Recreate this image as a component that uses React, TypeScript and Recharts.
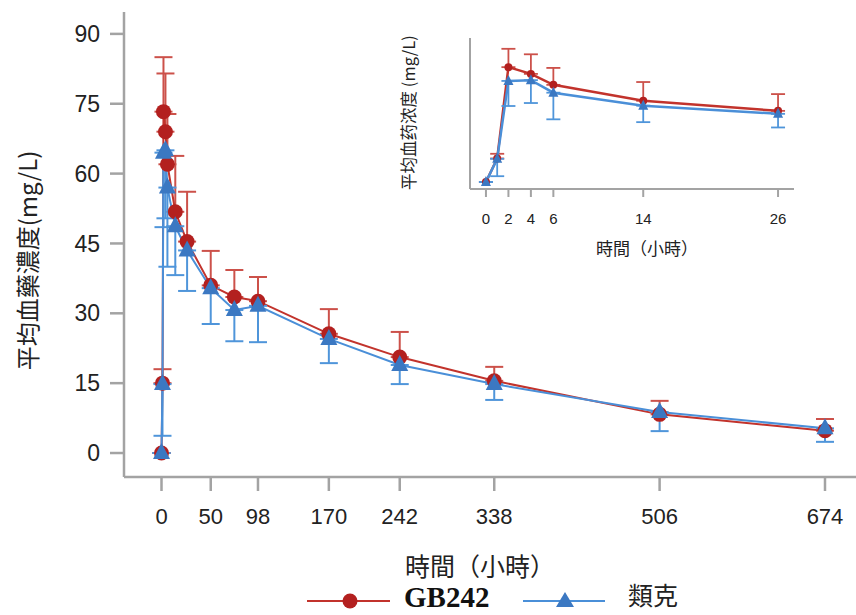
import React from 'react';
import { ComposedChart, Line, XAxis, YAxis, ErrorBar, Label } from 'recharts';

// ---- data ----
const hours = [0, 1, 2, 4, 6, 14, 26, 50, 74, 98, 170, 242, 338, 506, 674];
const gb242Mean = [0, 15, 73.3, 69, 62, 51.8, 45.4, 36, 33.5, 32.6, 25.6, 20.6, 15.5, 8.3, 4.8];
const gb242UpperErr = [0, 3, 11.7, 12.5, 10.8, 12, 10.7, 7.4, 5.8, 5.2, 5.3, 5.4, 3, 2.9, 2.5];
const remicadeMean = [0, 14.8, 64.5, 65, 57, 48.7, 43.5, 35.4, 30.7, 31.6, 24.5, 18.9, 14.8, 8.8, 5.3];
const remicadeLowerErr = [0, 11.1, 16, 14.6, 17, 10.5, 8.7, 7.7, 6.7, 7.8, 5.2, 4.1, 3.4, 4.1, 2.9];

const seriesNames = ['GB242', '類克'];
const mainXTicks = [0, 50, 98, 170, 242, 338, 506, 674];
const mainYTicks = [0, 15, 30, 45, 60, 75, 90];
const insetXTicks = [0, 2, 4, 6, 14, 26];
const insetYTicks = [0, 30, 60, 90];
const insetMaxHour = 26;

const xTitle = '時間（小時）';
const yTitleMain = '平均血藥濃度(mg/L)';
const yTitleInset = '平均血药浓度 (mg/L)';

const data = hours.map((h, i) => ({
  h,
  a: gb242Mean[i],
  aErr: [0, gb242UpperErr[i]],
  b: remicadeMean[i],
  bErr: [remicadeLowerErr[i], 0],
}));
const insetData = data.filter((d) => d.h <= insetMaxHour);

// ---- styles ----
const RED_MARK = '#b3201f';
const RED_LINE = '#c2332c';
const RED_ERR = '#cc514a';
const BLUE_MARK = '#3b78c2';
const BLUE_LINE = '#4a8fd8';
const BLUE_ERR = '#4f95da';
const AXIS = '#a3a3a3';
const SANS = '"Liberation Sans", Arial, sans-serif';
const CJK_TC = '"Noto Sans CJK TC", "Noto Sans", sans-serif';
const CJK_SC = '"Noto Sans CJK SC", "Noto Sans", sans-serif';

const circleDot = (r: number, fill: string) => (props: any) => {
  const { cx, cy, index } = props;
  if (cx == null || cy == null) return <g key={`c${index}`} />;
  return <circle key={`c${index}`} cx={cx} cy={cy} r={r} fill={fill} stroke="none" />;
};

const triDot = (half: number, up: number, down: number, fill: string) => (props: any) => {
  const { cx, cy, index } = props;
  if (cx == null || cy == null) return <g key={`t${index}`} />;
  return (
    <polygon
      key={`t${index}`}
      points={`${cx},${cy - up} ${cx + half},${cy + down} ${cx - half},${cy + down}`}
      fill={fill}
      stroke="none"
    />
  );
};

const MainXLabel = (props: any) => {
  const vb = props.viewBox || { x: 124, y: 477, width: 732, height: 138 };
  return (
    <text
      x={vb.x + vb.width / 2 - 10}
      y={vb.y + 88}
      textAnchor="middle"
      dominantBaseline="central"
      fontSize={25}
      fontFamily={CJK_TC}
      fill="#222"
    >
      {xTitle}
    </text>
  );
};

const MainYLabel = (props: any) => {
  const vb = props.viewBox || { x: 0, y: 12, width: 124, height: 465 };
  const cx = vb.x + 26;
  const cy = vb.y + vb.height / 2 + 16;
  return (
    <text
      x={cx}
      y={cy}
      transform={`rotate(-90 ${cx} ${cy})`}
      textAnchor="middle"
      dominantBaseline="central"
      fontSize={24}
      fontFamily={CJK_TC}
      fill="#222"
    >
      {yTitleMain}
    </text>
  );
};

const InsetXLabel = (props: any) => {
  const vb = props.viewBox || { x: 90, y: 164, width: 324, height: 71 };
  return (
    <text
      x={vb.x + vb.width / 2 + 15}
      y={vb.y + 58}
      textAnchor="middle"
      dominantBaseline="central"
      fontSize={17}
      fontFamily={CJK_TC}
      fill="#222"
    >
      {xTitle}
    </text>
  );
};

const InsetYLabel = (props: any) => {
  const vb = props.viewBox || { x: 0, y: 13, width: 90, height: 151 };
  const cx = vb.x + 28;
  const cy = vb.y + vb.height / 2 - 1;
  return (
    <text
      x={cx}
      y={cy}
      transform={`rotate(-90 ${cx} ${cy})`}
      textAnchor="middle"
      dominantBaseline="central"
      fontSize={16.5}
      fontFamily={CJK_SC}
      fill="#222"
    >
      {yTitleInset}
    </text>
  );
};

// legend drawn in an SVG that starts at page y = 560
const Legend = () => (
  <svg width={856} height={55} style={{ position: 'absolute', left: 0, top: 560 }}>
    <line x1={307} y1={41} x2={390} y2={41} stroke={RED_LINE} strokeWidth={2} />
    <circle cx={350} cy={41} r={7.5} fill={RED_MARK} />
    <text x={404} y={47} fontFamily='"Liberation Serif", "Times New Roman", serif' fontWeight="bold" fontSize={29} fill="#111">
      {seriesNames[0]}
    </text>
    <line x1={523} y1={41} x2={605} y2={41} stroke={BLUE_LINE} strokeWidth={2} />
    <polygon points={`565,32 574,47 556,47`} fill={BLUE_MARK} />
    <text x={628} y={45} fontFamily={CJK_TC} fontSize={25} fill="#222">
      {seriesNames[1]}
    </text>
  </svg>
);

export default function App() {
  return (
    <div style={{ position: 'absolute', left: 0, top: 0, width: 856, height: 615, background: '#fff', overflow: 'hidden' }}>
      <ComposedChart width={856} height={615} data={data} margin={{ top: 12, right: 0, bottom: 0, left: 0 }}>
        <XAxis
          dataKey="h"
          type="number"
          domain={[-38.1, 705.5]}
          allowDataOverflow
          ticks={mainXTicks}
          interval={0}
          height={138}
          tickSize={14}
          tickMargin={17}
          stroke={AXIS}
          strokeWidth={2.5}
          tick={{ fill: '#222', fontSize: 22, fontFamily: SANS }}
        >
          <Label content={MainXLabel} />
        </XAxis>
        <YAxis
          type="number"
          domain={[-5.15, 94.7]}
          allowDataOverflow
          ticks={mainYTicks}
          interval={0}
          width={124}
          tickSize={14}
          tickMargin={10}
          stroke={AXIS}
          strokeWidth={2.5}
          tick={{ fill: '#222', fontSize: 23, fontFamily: SANS }}
        >
          <Label content={MainYLabel} />
        </YAxis>
        <Line
          dataKey="a"
          name={seriesNames[0]}
          type="linear"
          stroke={RED_LINE}
          strokeWidth={2}
          dot={circleDot(7.5, RED_MARK)}
          activeDot={false}
          isAnimationActive={false}
        >
          <ErrorBar dataKey="aErr" direction="y" width={9} stroke={RED_ERR} strokeWidth={2} isAnimationActive={false} />
        </Line>
        <Line
          dataKey="b"
          name={seriesNames[1]}
          type="linear"
          stroke={BLUE_LINE}
          strokeWidth={2}
          dot={triDot(8.5, 10, 6, BLUE_MARK)}
          activeDot={false}
          isAnimationActive={false}
        >
          <ErrorBar dataKey="bErr" direction="y" width={9} stroke={BLUE_ERR} strokeWidth={2} isAnimationActive={false} />
        </Line>
      </ComposedChart>

      <div style={{ position: 'absolute', left: 380, top: 25, width: 430, height: 235 }}>
        <ComposedChart width={430} height={235} data={insetData} margin={{ top: 13, right: 16, bottom: 0, left: 0 }}>
          <XAxis
            dataKey="h"
            type="number"
            domain={[-1.42, 27.42]}
            allowDataOverflow
            ticks={insetXTicks}
            interval={0}
            height={71}
            tickSize={8}
            tickMargin={16}
            stroke={AXIS}
            strokeWidth={2}
            tick={{ fill: '#222', fontSize: 15, fontFamily: SANS }}
          >
            <Label content={InsetXLabel} />
          </XAxis>
          <YAxis
            type="number"
            domain={[-4.47, 91.9]}
            allowDataOverflow
            ticks={insetYTicks}
            interval={0}
            width={90}
            tickSize={4}
            tick={false}
            stroke={AXIS}
            strokeWidth={2}
          >
            <Label content={InsetYLabel} />
          </YAxis>
          <Line
            dataKey="a"
            name={seriesNames[0]}
            type="linear"
            stroke={RED_LINE}
            strokeWidth={2.5}
            dot={circleDot(4, RED_MARK)}
            activeDot={false}
            isAnimationActive={false}
          >
            <ErrorBar dataKey="aErr" direction="y" width={7} stroke={RED_ERR} strokeWidth={1.8} isAnimationActive={false} />
          </Line>
          <Line
            dataKey="b"
            name={seriesNames[1]}
            type="linear"
            stroke={BLUE_LINE}
            strokeWidth={2.5}
            dot={triDot(5, 6, 4, BLUE_MARK)}
            activeDot={false}
            isAnimationActive={false}
          >
            <ErrorBar dataKey="bErr" direction="y" width={7} stroke={BLUE_ERR} strokeWidth={1.8} isAnimationActive={false} />
          </Line>
        </ComposedChart>
      </div>

      <Legend />
    </div>
  );
}
